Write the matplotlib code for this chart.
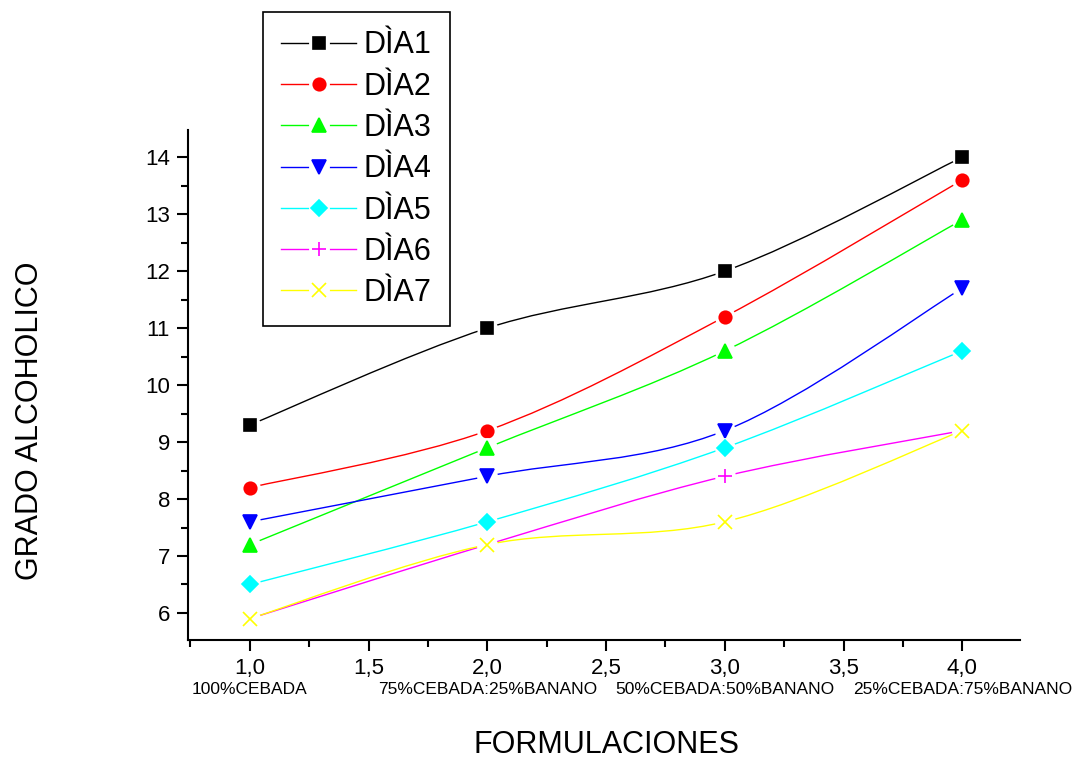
import matplotlib
matplotlib.use("Agg")
import matplotlib.pyplot as plt
import numpy as np
from matplotlib.path import Path
from matplotlib.patches import PathPatch
from matplotlib.lines import Line2D
from matplotlib.legend_handler import HandlerTuple
from matplotlib.ticker import FuncFormatter, MultipleLocator

plt.rcParams['font.family'] = ['Liberation Sans', 'DejaVu Sans']

# data
x = [1.0, 2.0, 3.0, 4.0]
formulaciones = ["100%CEBADA", "75%CEBADA:25%BANANO",
                 "50%CEBADA:50%BANANO", "25%CEBADA:75%BANANO"]
dia1 = [9.3, 11.0, 12.0, 14.0]
dia2 = [8.2, 9.2, 11.2, 13.6]
dia3 = [7.2, 8.9, 10.6, 12.9]
dia4 = [7.6, 8.4, 9.2, 11.7]
dia5 = [6.5, 7.6, 8.9, 10.6]
dia6 = [5.9, 7.2, 8.4, 9.2]
dia7 = [5.9, 7.2, 7.6, 9.2]
labels = ["DÌA1", "DÌA2", "DÌA3", "DÌA4", "DÌA5", "DÌA6", "DÌA7"]

series = [dia1, dia2, dia3, dia4, dia5, dia6, dia7]
colors = ["black", "#ff0000", "#00ff00", "#0000ff", "#00ffff", "#ff00ff", "#ffff00"]
markers = ["s", "o", "^", "v", "D", "+", "x"]
msizes = [8, 9, 10, 10, 8, 10, 10]


def smooth_path(xs, ys):
    # Catmull-Rom through the points, drawn as cubic Bezier segments
    p = np.column_stack([xs, ys])
    p = np.vstack([p[0], p, p[-1]])
    verts = [p[1]]
    codes = [Path.MOVETO]
    for i in range(1, len(p) - 2):
        c1 = p[i] + (p[i + 1] - p[i - 1]) / 6.0
        c2 = p[i + 1] - (p[i + 2] - p[i]) / 6.0
        verts += [c1, c2, p[i + 1]]
        codes += [Path.CURVE4] * 3
    return Path(verts, codes)


fig = plt.figure(figsize=(10.81, 7.58), dpi=100)
ax = fig.add_axes([0.174, 0.156, 0.770, 0.672])

handles = []
for i, (ys, c, m, ms, lab) in enumerate(zip(series, colors, markers, msizes, labels)):
    z = 2 + 3 * i
    ax.add_patch(PathPatch(smooth_path(x, ys), fill=False, edgecolor=c, lw=1.0, zorder=z))
    ax.plot(x, ys, ls="none", marker="o", ms=15, mfc="white", mec="none", zorder=z + 1)
    ax.plot(x, ys, ls="none", marker=m, ms=ms, color=c, mew=1.2, zorder=z + 2)
    h_line = Line2D([], [], color=c, lw=1.0)
    h_gap = Line2D([], [], ls="none", marker="o", ms=15, mfc="white", mec="none")
    h_mark = Line2D([], [], ls="none", marker=m, ms=ms, color=c, mew=1.2)
    handles.append((h_line, h_gap, h_mark))

ax.set_xlim(0.74, 4.245)
ax.set_ylim(5.53, 14.47)
ax.xaxis.set_major_locator(MultipleLocator(0.5))
ax.xaxis.set_minor_locator(MultipleLocator(0.25))
ax.yaxis.set_major_locator(MultipleLocator(1))
ax.yaxis.set_minor_locator(MultipleLocator(0.5))
ax.xaxis.set_major_formatter(FuncFormatter(lambda v, p: f"{v:.1f}".replace(".", ",")))
ax.yaxis.set_major_formatter(FuncFormatter(lambda v, p: f"{v:.0f}"))

for s in ["top", "right"]:
    ax.spines[s].set_visible(False)
for s in ["left", "bottom"]:
    ax.spines[s].set_linewidth(1.5)
ax.tick_params(which="major", direction="out", length=8, width=1.5, labelsize=16, pad=5)
ax.tick_params(which="minor", direction="out", length=5, width=1.5)

for xv, txt in zip(x, formulaciones):
    ax.text(xv, -0.083, txt, transform=ax.get_xaxis_transform(), ha="center", va="top", fontsize=12.5)

fig.text(0.561, 0.017, "FORMULACIONES", ha="center", va="center", fontsize=22)
fig.text(0.028, 0.445, "GRADO ALCOHOLICO", ha="center", va="center", rotation=90, fontsize=22)

leg = fig.legend(handles, labels, handler_map={tuple: HandlerTuple(ndivide=1)},
                 loc="upper left", bbox_to_anchor=(263 / 1081, 1 - 12 / 758),
                 borderaxespad=0, fontsize=22, handlelength=2.45, labelspacing=0.37,
                 handletextpad=0.25, borderpad=0.6, fancybox=False,
                 edgecolor="black", framealpha=1)
leg.get_frame().set_linewidth(1.2)

fig.savefig("out.png", dpi=100)
